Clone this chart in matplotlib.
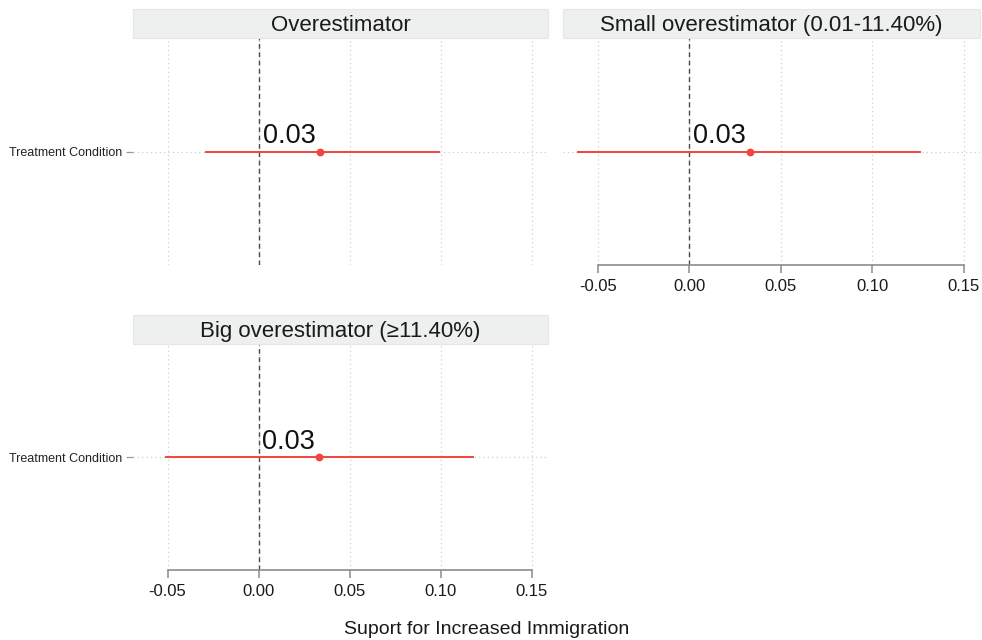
import matplotlib
matplotlib.use("Agg")
import matplotlib.pyplot as plt
from matplotlib.patches import Rectangle

plt.rcParams["font.family"] = ["Liberation Sans", "DejaVu Sans"]

# data
panel_titles = ["Overestimator", "Small overestimator (0.01-11.40%)", "Big overestimator (\u226511.40%)"]
term = "Treatment Condition"
estimates = [0.034, 0.033, 0.033]
ci_low = [-0.029, -0.061, -0.051]
ci_high = [0.099, 0.126, 0.118]
x_ticks = [-0.05, 0.00, 0.05, 0.10, 0.15]
x_tick_labels = ["-0.05", "0.00", "0.05", "0.10", "0.15"]
x_label = "Suport for Increased Immigration"

W, H = 982, 640
fig = plt.figure(figsize=(W / 100, H / 100), dpi=100)

# (left, right, plot_top, plot_bottom, strip_top) in pixels
boxes = [
    (133, 548, 38, 265, 9),
    (563, 980, 38, 265, 9),
    (133, 548, 344, 570, 315),
]
show_x = [False, True, True]
show_y = [True, False, True]

red = "#F2453D"
grid_col = "#CFCFCF"
axis_col = "#8C8C8C"

for i, (l, r, t, b, st) in enumerate(boxes):
    ax = fig.add_axes([l / W, 1 - b / H, (r - l) / W, (b - t) / H])
    ax.set_xlim(-0.069, 0.159)
    ax.set_ylim(-0.6, 0.6)

    for xv in x_ticks:
        ax.axvline(xv, color=grid_col, lw=0.9, ls=(0, (1, 2.5)), zorder=0)
    ax.axhline(0, color=grid_col, lw=0.9, ls=(0, (1, 2.5)), zorder=0)
    ax.axvline(0, color="#4A4A4A", lw=1.0, ls=(0, (3.5, 2.5)), zorder=1)

    ax.plot([ci_low[i], ci_high[i]], [0, 0], color=red, lw=1.4, zorder=2)
    ax.plot([estimates[i]], [0], "o", color=red, ms=4.6, zorder=3)
    ax.annotate(f"{estimates[i]:.2f}", (estimates[i], 0), xytext=(-3, 6),
                textcoords="offset points", ha="right", va="baseline",
                fontsize=19.5, color="#111111")

    for s in ["top", "right", "left"]:
        ax.spines[s].set_visible(False)

    ax.set_xticks(x_ticks)
    if show_x[i]:
        ax.spines["bottom"].set_bounds(-0.05, 0.15)
        ax.spines["bottom"].set_color(axis_col)
        ax.spines["bottom"].set_linewidth(1.2)
        ax.set_xticklabels(x_tick_labels)
        ax.tick_params(axis="x", length=6, width=1.1, color=axis_col,
                       pad=4, labelsize=12, labelcolor="#1A1A1A")
    else:
        ax.spines["bottom"].set_visible(False)
        ax.tick_params(axis="x", length=0, labelbottom=False)

    ax.set_yticks([0])
    if show_y[i]:
        ax.set_yticklabels([term])
        ax.tick_params(axis="y", length=5, width=0.9, color="#9A9A9A",
                       pad=3, labelsize=9, labelcolor="#222222")
    else:
        ax.tick_params(axis="y", length=0, labelleft=False)

    # facet strip
    fig.patches.append(Rectangle((l / W, 1 - t / H), (r - l) / W, (t - st) / H,
                                 transform=fig.transFigure, facecolor="#EEF0F0",
                                 edgecolor="#E3E7E9", lw=0.8))
    fig.text((l + r) / 2 / W, 1 - ((t + st) / 2 + 2) / H, panel_titles[i],
             ha="center", va="center", fontsize=16, color="#1A1A1A")

fig.text(487 / W, 1 - 629 / H, x_label, ha="center", va="center",
         fontsize=14, color="#1A1A1A")

fig.savefig("out.png", dpi=100)
